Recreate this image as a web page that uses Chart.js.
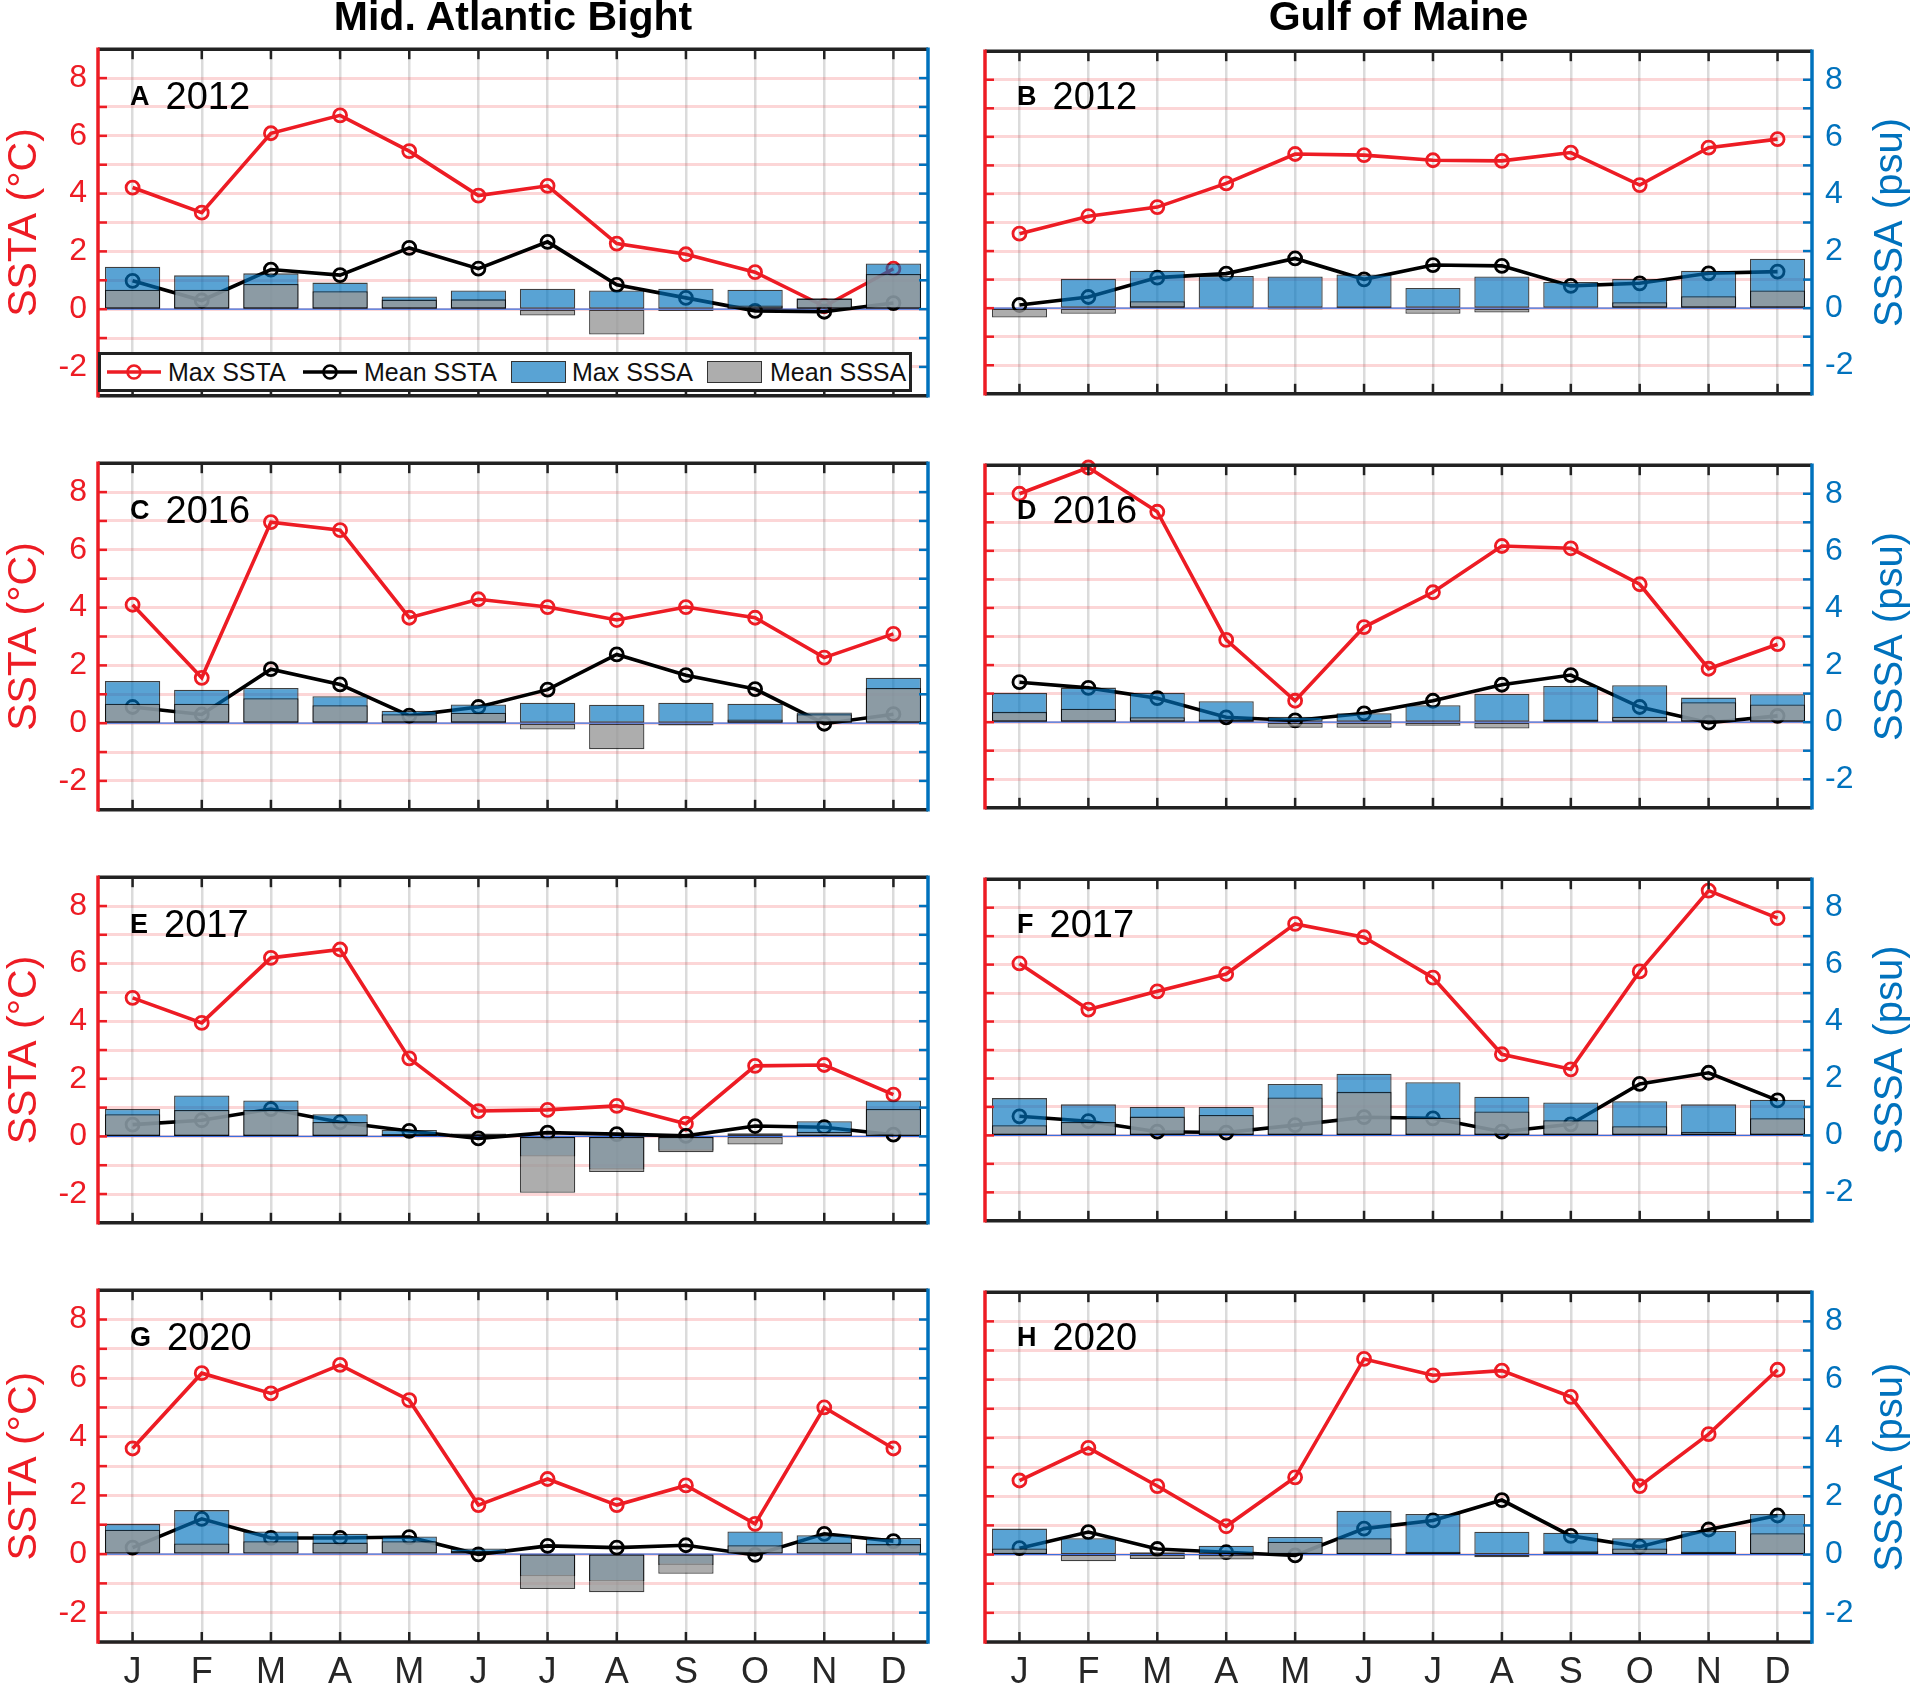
<!DOCTYPE html>
<html>
<head>
<meta charset="utf-8">
<script src="https://cdn.jsdelivr.net/npm/chart.js@4.4.1/dist/chart.umd.min.js"></script>
<style>
  body { margin: 0; background: #fff; }
  #fig { position: relative; width: 1915px; height: 1690px; overflow: hidden;
         font-family: 'Liberation Sans', Arial, Helvetica, sans-serif; }
  #fig canvas { position: absolute; }
  .coltitle { position: absolute; top: -4px; font-weight: bold; font-size: 41px; line-height: 41px;
              text-align: center; color: #000; }
  .plabel { position: absolute; display: flex; align-items: center; white-space: nowrap; color: #000; }
  .plabel b { font-size: 27px; margin-right: 16px; }
  .plabel span { font-size: 38px; line-height: 38px; }
  .legend { position: absolute; box-sizing: border-box; border: 3px solid #222; background: #fff; }
  .legend .it { position: absolute; top: 0; height: 34px; line-height: 34px; font-size: 25px; color: #111; }
  .legend .sw { position: absolute; top: 6px; box-sizing: border-box; height: 22px; border: 1.5px solid #333; }
</style>
</head>
<body>
<div id="fig"></div>
<script>
const months = ['J', 'F', 'M', 'A', 'M', 'J', 'J', 'A', 'S', 'O', 'N', 'D'];
const yTicks = [-2, 0, 2, 4, 6, 8];
const regions = ['Mid. Atlantic Bight', 'Gulf of Maine'];
const panelLetters = ['A', 'B', 'C', 'D', 'E', 'F', 'G', 'H'];
const panelYears = ['2012', '2012', '2016', '2016', '2017', '2017', '2020', '2020'];
const legendNames = ['Max SSTA', 'Mean SSTA', 'Max SSSA', 'Mean SSSA'];

// A  Mid. Atlantic Bight 2012
const maxSstaA = [4.21, 3.34, 6.09, 6.71, 5.47, 3.93, 4.27, 2.27, 1.90, 1.28, 0.10, 1.40];
const meanSstaA = [0.98, 0.30, 1.37, 1.18, 2.12, 1.40, 2.33, 0.84, 0.39, -0.06, -0.09, 0.21];
const maxSssaA = [1.47, 1.17, 1.24, 0.92, 0.44, 0.65, 0.71, 0.65, 0.71, 0.67, 0.38, 1.58];
const meanSssaA = [0.67, 0.67, 0.87, 0.62, 0.33, 0.34, -0.22, -0.88, -0.06, 0.13, 0.36, 1.22];
// B  Gulf of Maine 2012
const maxSstaB = [2.61, 3.22, 3.54, 4.37, 5.40, 5.36, 5.18, 5.16, 5.45, 4.31, 5.62, 5.92];
const meanSstaB = [0.11, 0.39, 1.07, 1.21, 1.74, 1.01, 1.51, 1.48, 0.78, 0.87, 1.22, 1.28];
const maxSssaB = [-0.05, 1.03, 1.31, 1.13, 1.11, 1.18, 0.71, 1.11, 0.92, 1.02, 1.31, 1.73];
const meanSssaB = [-0.33, -0.20, 0.24, -0.02, -0.05, 0.05, -0.20, -0.15, -0.02, 0.21, 0.42, 0.62];
// C  Mid. Atlantic Bight 2016
const maxSstaC = [4.10, 1.57, 6.96, 6.68, 3.65, 4.29, 4.02, 3.57, 4.02, 3.65, 2.27, 3.09];
const meanSstaC = [0.56, 0.30, 1.87, 1.34, 0.26, 0.56, 1.16, 2.38, 1.66, 1.18, -0.02, 0.31];
const maxSssaC = [1.46, 1.16, 1.22, 0.93, 0.43, 0.65, 0.71, 0.64, 0.71, 0.67, 0.37, 1.57];
const meanSssaC = [0.67, 0.67, 0.86, 0.62, 0.31, 0.36, -0.22, -0.90, -0.08, 0.13, 0.31, 1.22];
// D  Gulf of Maine 2016
const maxSstaD = [8.00, 8.92, 7.37, 2.88, 0.75, 3.33, 4.55, 6.17, 6.09, 4.83, 1.87, 2.73];
const meanSstaD = [1.40, 1.20, 0.84, 0.17, 0.06, 0.31, 0.75, 1.31, 1.65, 0.53, -0.02, 0.22];
const maxSssaD = [1.03, 1.21, 1.03, 0.73, 0.19, 0.31, 0.59, 0.99, 1.27, 1.29, 0.86, 0.98];
const meanSssaD = [0.36, 0.47, 0.17, 0.09, -0.20, -0.20, -0.13, -0.22, 0.09, 0.19, 0.70, 0.62];
// E  Mid. Atlantic Bight 2017
const maxSstaE = [4.81, 3.94, 6.20, 6.49, 2.71, 0.88, 0.92, 1.06, 0.44, 2.45, 2.48, 1.45];
const meanSstaE = [0.41, 0.56, 0.95, 0.49, 0.19, -0.07, 0.13, 0.08, 0.02, 0.36, 0.32, 0.06];
const maxSssaE = [0.95, 1.42, 1.25, 0.77, 0.22, 0.10, -0.70, -1.15, -0.50, 0.11, 0.53, 1.25];
const meanSssaE = [0.77, 0.92, 0.92, 0.50, 0.08, 0.06, -1.96, -1.24, -0.55, -0.28, 0.16, 0.95];
// F  Gulf of Maine 2017
const maxSstaF = [6.04, 4.42, 5.06, 5.67, 7.43, 6.96, 5.54, 2.85, 2.32, 5.76, 8.60, 7.63];
const meanSstaF = [0.67, 0.50, 0.13, 0.10, 0.36, 0.64, 0.60, 0.13, 0.39, 1.81, 2.20, 1.23];
const maxSssaF = [1.31, 1.09, 1.00, 1.00, 1.81, 2.17, 1.87, 1.36, 1.16, 1.20, 1.09, 1.25];
const meanSssaF = [0.36, 0.47, 0.66, 0.72, 1.33, 1.53, 0.62, 0.84, 0.53, 0.32, 0.13, 0.60];
// G  Mid. Atlantic Bight 2020
const maxSstaG = [3.60, 6.17, 5.48, 6.45, 5.25, 1.67, 2.56, 1.67, 2.34, 1.03, 5.00, 3.60];
const meanSstaG = [0.22, 1.20, 0.55, 0.55, 0.58, -0.01, 0.28, 0.22, 0.30, -0.03, 0.69, 0.44];
const maxSssaG = [1.03, 1.50, 0.77, 0.69, 0.60, 0.19, -0.76, -0.93, -0.37, 0.77, 0.64, 0.55];
const meanSssaG = [0.83, 0.36, 0.44, 0.39, 0.44, 0.10, -1.19, -1.30, -0.67, 0.30, 0.39, 0.34];
// H  Gulf of Maine 2020
const maxSstaH = [2.54, 3.66, 2.35, 0.97, 2.65, 6.71, 6.15, 6.31, 5.41, 2.35, 4.13, 6.34];
const meanSstaH = [0.22, 0.77, 0.19, 0.08, -0.03, 0.89, 1.17, 1.87, 0.64, 0.27, 0.86, 1.34];
const maxSssaH = [0.89, 0.56, 0.08, 0.30, 0.60, 1.50, 1.39, 0.78, 0.75, 0.56, 0.81, 1.39];
const meanSssaH = [0.21, -0.23, -0.15, -0.17, 0.44, 0.56, 0.10, -0.09, 0.11, 0.21, 0.10, 0.73];

const panelData = [
  [maxSstaA, meanSstaA, maxSssaA, meanSssaA],
  [maxSstaB, meanSstaB, maxSssaB, meanSssaB],
  [maxSstaC, meanSstaC, maxSssaC, meanSssaC],
  [maxSstaD, meanSstaD, maxSssaD, meanSssaD],
  [maxSstaE, meanSstaE, maxSssaE, meanSssaE],
  [maxSstaF, meanSstaF, maxSssaF, meanSssaF],
  [maxSstaG, meanSstaG, maxSssaG, meanSssaG],
  [maxSstaH, meanSstaH, maxSssaH, meanSssaH]
];

const FONT = "'Liberation Sans', Arial, Helvetica, sans-serif";
const RED = '#ED1C24';
const BLUE = '#0072BD';
const BLUE_FILL = 'rgba(0,114,189,0.65)';
const GRAY_FILL = 'rgba(153,153,153,0.8)';
const EDGE = 'rgba(0,0,0,0.75)';

// page layout (pixels)
const cols = [
  { left: 0, width: 960, yW: 98, y2W: 32 },
  { left: 960, width: 955, yW: 25, y2W: 103 }
];
const rowTops = [43, 457, 871, 1284];
const rowBottoms = [402, 816, 1229, 1642];
const PAD = 24;

const fig = document.getElementById('fig');

// frame, inward ticks, zero line and right-hand title
const framePlugin = {
  id: 'frame',
  beforeDatasetsDraw(chart) {
    const { ctx, chartArea: a } = chart;
    const y0 = chart.scales.y.getPixelForValue(0);
    ctx.save();
    ctx.strokeStyle = '#3a6fe0';
    ctx.lineWidth = 1.3;
    ctx.beginPath(); ctx.moveTo(a.left, y0); ctx.lineTo(a.right, y0); ctx.stroke();
    ctx.restore();
  },
  afterDraw(chart, args, opts) {
    const { ctx, chartArea: a, scales } = chart;
    const seg = (x1, y1, x2, y2) => { ctx.beginPath(); ctx.moveTo(x1, y1); ctx.lineTo(x2, y2); ctx.stroke(); };
    ctx.save();
    ctx.lineWidth = 2.5;
    ctx.strokeStyle = '#222';
    scales.x.ticks.forEach((t, i) => {
      const x = scales.x.getPixelForTick(i);
      seg(x, a.top, x, a.top + 10);
      seg(x, a.bottom, x, a.bottom - 10);
    });
    scales.y.ticks.forEach(t => {
      if (t.value <= scales.y.min || t.value >= scales.y.max) return;
      const y = scales.y.getPixelForValue(t.value);
      ctx.strokeStyle = RED; seg(a.left, y, a.left + 9, y);
      ctx.strokeStyle = BLUE; seg(a.right, y, a.right - 9, y);
    });
    ctx.lineWidth = 3.5;
    ctx.strokeStyle = '#222';
    seg(a.left, a.top, a.right, a.top);
    seg(a.left, a.bottom, a.right, a.bottom);
    ctx.strokeStyle = RED; seg(a.left, a.top - 1.75, a.left, a.bottom + 1.75);
    ctx.strokeStyle = BLUE; seg(a.right, a.top - 1.75, a.right, a.bottom + 1.75);
    if (opts.rightTitle) {
      ctx.translate(chart.width - 24, (a.top + a.bottom) / 2);
      ctx.rotate(-Math.PI / 2);
      ctx.fillStyle = BLUE;
      ctx.font = '40px ' + FONT;
      ctx.textAlign = 'center';
      ctx.textBaseline = 'middle';
      ctx.fillText(opts.rightTitle, 0, 0);
    }
    ctx.restore();
  }
};

function tickText(v) {
  return yTicks.includes(v) ? String(v) : '';
}

function makePanel(idx) {
  const col = idx % 2;
  const row = Math.floor(idx / 2);
  const c = cols[col];
  const T = rowTops[row], B = rowBottoms[row];
  const last = row === 3;
  const xH = last ? 1690 - B : PAD;
  const w = c.width, h = (B - T) + PAD + xH;

  const cv = document.createElement('canvas');
  cv.width = w; cv.height = h;
  cv.style.left = c.left + 'px';
  cv.style.top = (T - PAD) + 'px';
  cv.style.width = w + 'px';
  cv.style.height = h + 'px';
  fig.appendChild(cv);

  const [maxT, meanT, maxS, meanS] = panelData[idx];
  const barCommon = {
    type: 'bar', yAxisID: 'y2', borderColor: EDGE, borderWidth: 1.3, borderSkipped: false,
    grouped: false, barPercentage: 0.8, categoryPercentage: 1.0
  };
  const lineCommon = {
    type: 'line', yAxisID: 'y', borderWidth: 3.6, pointRadius: 6.5, pointBorderWidth: 2.8,
    pointBackgroundColor: 'rgba(0,0,0,0)', tension: 0, clip: 10
  };

  new Chart(cv, {
    type: 'bar',
    data: {
      labels: months,
      datasets: [
        Object.assign({}, barCommon, { label: legendNames[3], data: meanS, order: 0, backgroundColor: GRAY_FILL }),
        Object.assign({}, barCommon, { label: legendNames[2], data: maxS, order: 1, backgroundColor: BLUE_FILL }),
        Object.assign({}, lineCommon, { label: legendNames[1], data: meanT, order: 2, borderColor: '#000', pointBorderColor: '#000' }),
        Object.assign({}, lineCommon, { label: legendNames[0], data: maxT, order: 3, borderColor: RED, pointBorderColor: RED })
      ]
    },
    options: {
      responsive: false,
      animation: false,
      devicePixelRatio: 1,
      layout: { padding: { top: PAD, bottom: 0, left: 0, right: 0 } },
      plugins: {
        legend: { display: false },
        tooltip: { enabled: false },
        frame: { rightTitle: col === 1 ? 'SSSA (psu)' : '' }
      },
      scales: {
        x: {
          type: 'category',
          offset: true,
          border: { display: false },
          grid: { offset: false, color: 'rgba(0,0,0,0.14)', lineWidth: 2.5, drawTicks: false },
          ticks: { display: last, color: '#262626', font: { family: FONT, size: 36 }, padding: 9,
                   maxRotation: 0, autoSkip: false },
          afterFit(s) { s.height = xH; }
        },
        y: {
          position: 'left',
          min: -3, max: 9,
          border: { display: false },
          grid: { color: 'rgba(237,28,36,0.18)', lineWidth: 3, drawTicks: false },
          ticks: { display: col === 0, stepSize: 1, autoSkip: false, color: RED,
                   font: { family: FONT, size: 32 }, padding: 11, callback: tickText },
          title: { display: col === 0, text: 'SSTA (°C)', color: RED, font: { family: FONT, size: 41 }, padding: 0 },
          afterFit(s) { s.width = c.yW; }
        },
        y2: {
          position: 'right',
          min: -3, max: 9,
          border: { display: false },
          grid: { drawOnChartArea: false, drawTicks: false },
          ticks: { display: col === 1, stepSize: 1, autoSkip: false, color: BLUE,
                   font: { family: FONT, size: 32 }, padding: 13, callback: tickText },
          afterFit(s) { s.width = c.y2W; }
        }
      }
    },
    plugins: [framePlugin]
  });

  const lab = document.createElement('div');
  lab.className = 'plabel';
  lab.style.left = (c.left + c.yW + 32) + 'px';
  lab.style.top = (T + 34) + 'px';
  lab.innerHTML = '<b>' + panelLetters[idx] + '</b><span>' + panelYears[idx] + '</span>';
  fig.appendChild(lab);
}

for (let i = 0; i < 8; i++) makePanel(i);

// column titles
regions.forEach((r, col) => {
  const c = cols[col];
  const d = document.createElement('div');
  d.className = 'coltitle';
  d.style.left = (c.left + c.yW) + 'px';
  d.style.width = (c.width - c.yW - c.y2W) + 'px';
  d.textContent = r;
  fig.appendChild(d);
});

// legend in panel A
const leg = document.createElement('div');
leg.className = 'legend';
leg.style.left = '98px';
leg.style.top = '352px';
leg.style.width = '814px';
leg.style.height = '40px';
const lineSample = color =>
  '<svg width="54" height="34" style="position:absolute;top:0"><line x1="0" y1="17" x2="54" y2="17" stroke="' + color +
  '" stroke-width="3.4"/><circle cx="27" cy="17" r="6.5" fill="none" stroke="' + color + '" stroke-width="2.6"/></svg>';
const items = [
  { x: 6, sample: lineSample(RED), tx: 67 },
  { x: 202, sample: lineSample('#000'), tx: 263 },
  { x: 410, box: BLUE_FILL, tx: 471 },
  { x: 606, box: GRAY_FILL, tx: 669 }
];
items.forEach((it, i) => {
  const s = document.createElement('div');
  if (it.sample) {
    s.style.position = 'absolute'; s.style.left = it.x + 'px'; s.style.top = '0px';
    s.innerHTML = it.sample;
  } else {
    s.className = 'sw';
    s.style.left = it.x + 'px'; s.style.width = '55px'; s.style.background = it.box;
  }
  leg.appendChild(s);
  const t = document.createElement('div');
  t.className = 'it';
  t.style.left = it.tx + 'px';
  t.textContent = legendNames[i];
  leg.appendChild(t);
});
fig.appendChild(leg);
</script>
</body>
</html>
